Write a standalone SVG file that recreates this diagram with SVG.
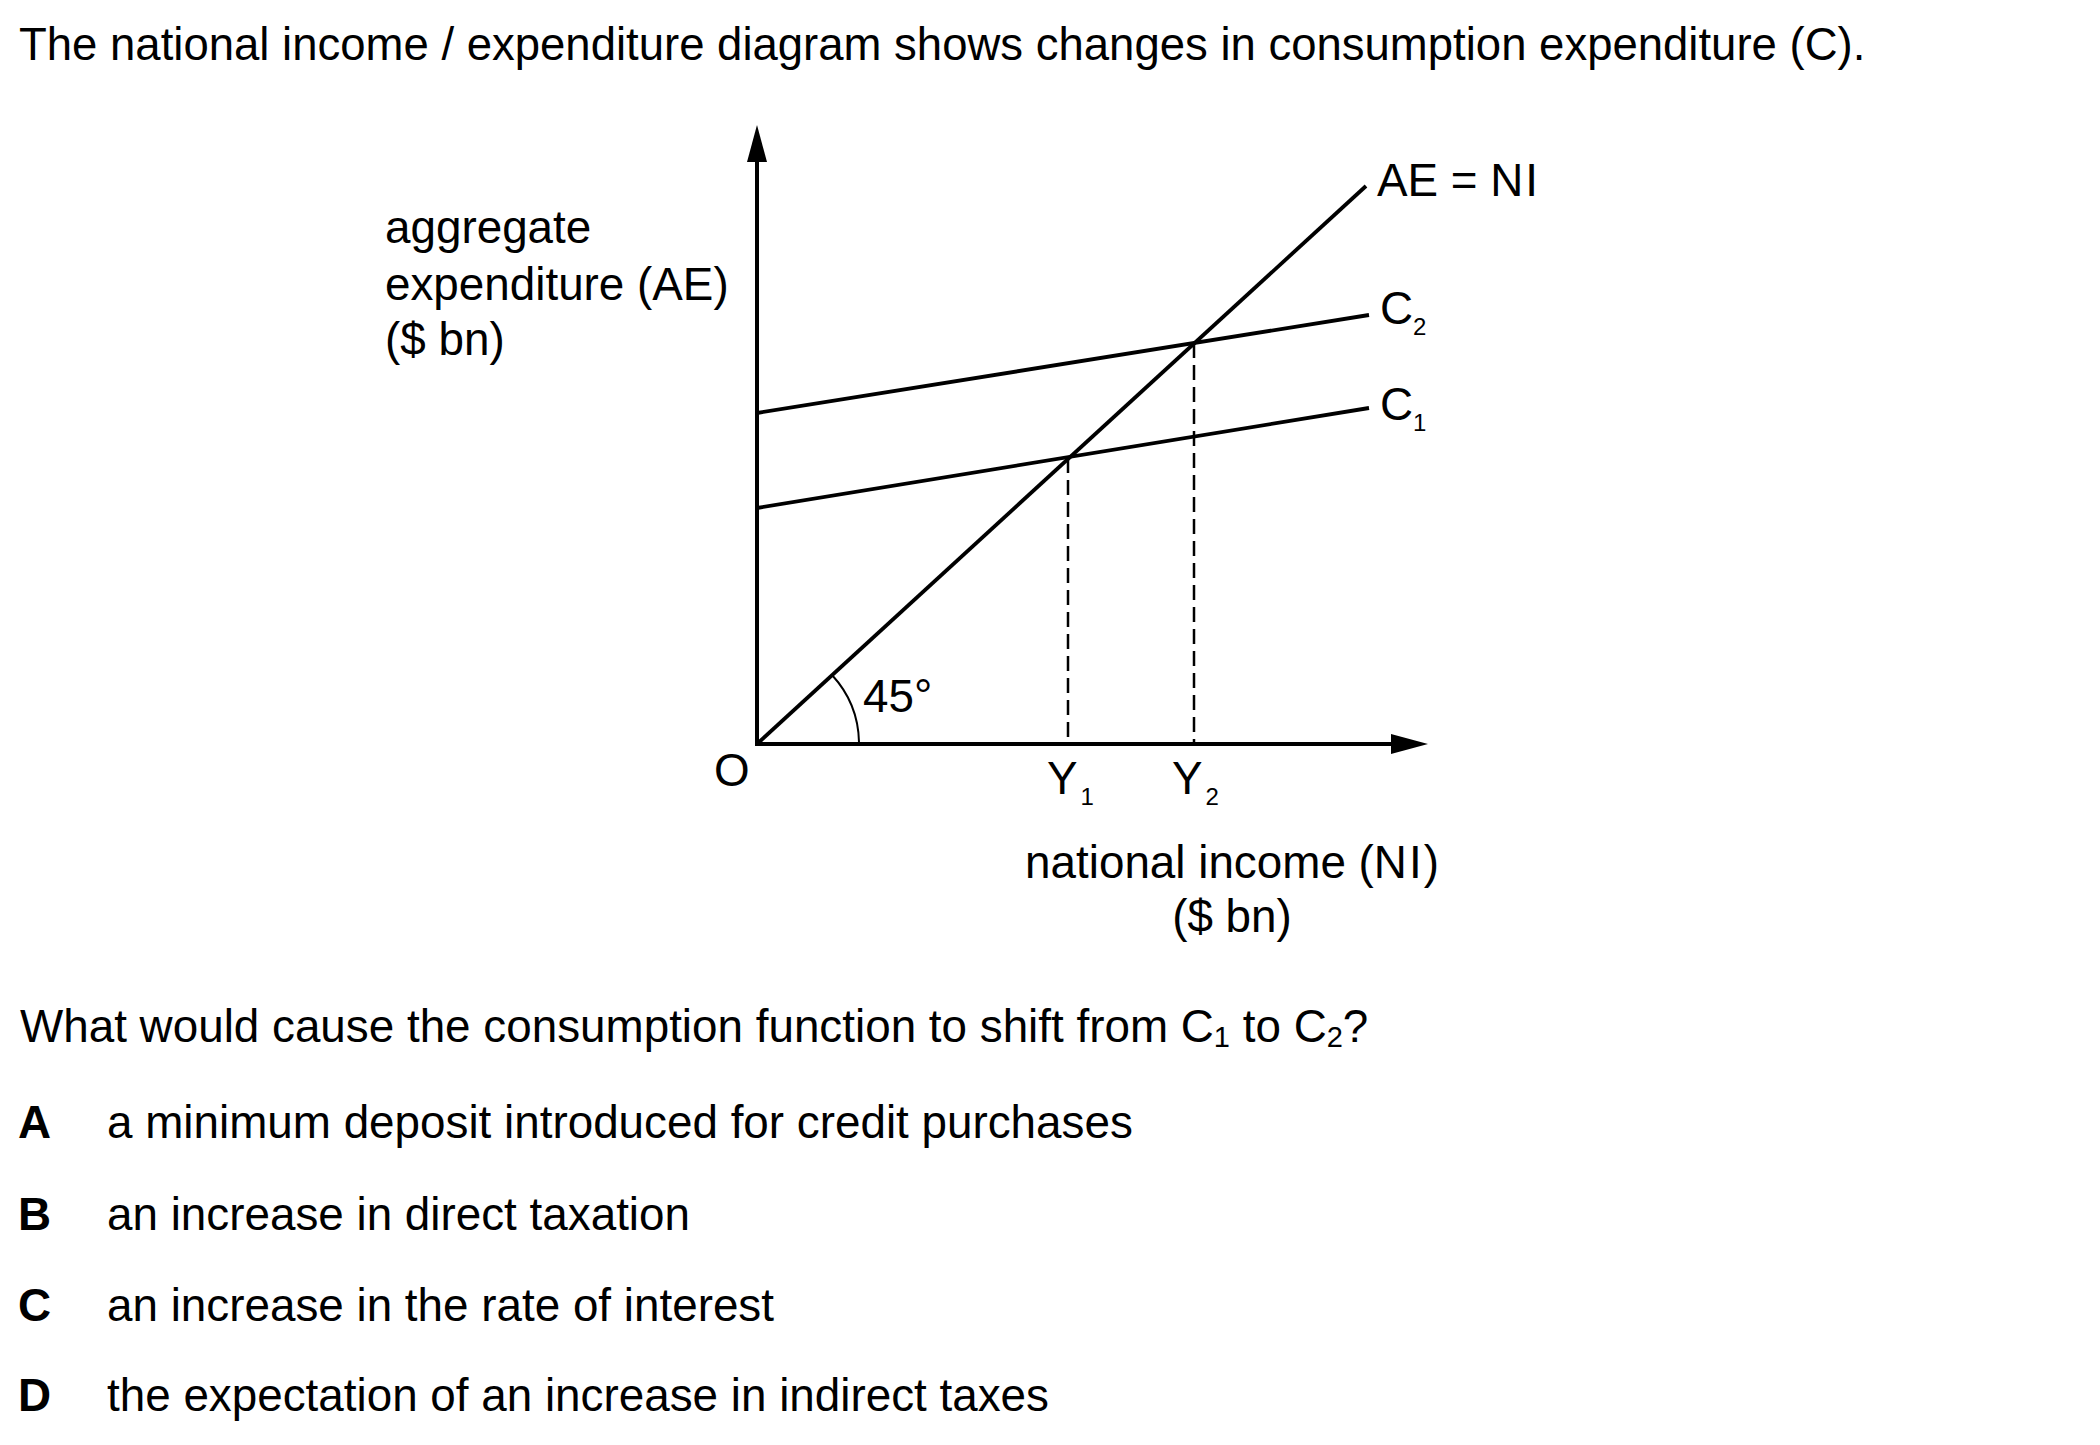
<svg xmlns="http://www.w3.org/2000/svg" width="2100" height="1445" viewBox="0 0 2100 1445">
<style>
  text { font-family: "Liberation Sans", Arial, sans-serif; fill: #000; }
  .t { font-size: 45.5px; }
  .o { font-size: 45.8px; }
  .d { font-size: 45.8px; }
  .sub { font-size: 24px; }
  .qsub { font-size: 29px; }
  .b { font-weight: bold; }
  .axis { stroke: #000; stroke-width: 4; fill: none; }
  .curve { stroke: #000; stroke-width: 3.8; fill: none; stroke-linecap: butt; }
  .dash { stroke: #000; stroke-width: 2.5; fill: none; stroke-dasharray: 15 7; }
  .arc { stroke: #000; stroke-width: 2; fill: none; }
</style>
<defs>
  <marker id="arrow" viewBox="0 0 37 20" refX="0" refY="10" markerWidth="37" markerHeight="20" markerUnits="userSpaceOnUse" orient="auto">
    <path d="M0,0 L37,10 L0,20 Z" fill="#000"/>
  </marker>
</defs>
<rect width="2100" height="1445" fill="#fff"/>

<g id="title">
  <text class="t" x="19" y="60">The national income / expenditure diagram shows changes in consumption expenditure (C).</text>
</g>

<g id="y-axis-label">
  <text class="d" x="385" y="243">aggregate</text>
  <text class="d" x="385" y="300">expenditure (AE)</text>
  <text class="d" x="385" y="355">($ bn)</text>
</g>

<g id="x-axis-label">
  <text class="d" x="1232" y="878" text-anchor="middle">national income (N<tspan dx="2">I</tspan><tspan dx="2">)</tspan></text>
  <text class="d" x="1232" y="932" text-anchor="middle">($ bn)</text>
</g>

<g id="connectors">
  <line id="y-axis" class="axis" x1="757" y1="746" x2="757" y2="162" marker-end="url(#arrow)"/>
  <line id="x-axis" class="axis" x1="755" y1="744" x2="1391" y2="744" marker-end="url(#arrow)"/>
  <line id="ae-ni" class="curve" x1="757" y1="744" x2="1366" y2="186"/>
  <line id="c2" class="curve" x1="757" y1="413" x2="1369" y2="315"/>
  <line id="c1" class="curve" x1="757" y1="508" x2="1369" y2="408"/>
  <line id="y1-drop" class="dash" x1="1068" y1="458" x2="1068" y2="742"/>
  <line id="y2-drop" class="dash" x1="1194" y1="343" x2="1194" y2="742"/>
  <path id="angle-arc" class="arc" d="M 859 742 A 102 102 0 0 0 832 675"/>
</g>

<g id="diagram-labels">
  <text class="d" x="1377" y="196">AE = N<tspan dx="2">I</tspan></text>
  <text class="d" x="1380" y="324">C<tspan class="sub" dy="11">2</tspan></text>
  <text class="d" x="1380" y="420">C<tspan class="sub" dy="11">1</tspan></text>
  <text class="d" x="863" y="712">45°</text>
  <text class="d" x="714" y="786">O</text>
  <text class="d" x="1047" y="794">Y<tspan class="sub" dx="3" dy="11">1</tspan></text>
  <text class="d" x="1172" y="794">Y<tspan class="sub" dx="3" dy="11">2</tspan></text>
</g>

<g id="question">
  <text class="o" x="20" y="1042">What would cause the consumption function to shift from C<tspan class="qsub" dy="5">1</tspan><tspan dy="-5"> to C</tspan><tspan class="qsub" dy="5">2</tspan><tspan dy="-5">?</tspan></text>
</g>

<g id="options">
  <text class="o b" x="18" y="1138">A</text>
  <text class="o" x="107" y="1138">a minimum deposit introduced for credit purchases</text>
  <text class="o b" x="18" y="1230">B</text>
  <text class="o" x="107" y="1230">an increase in direct taxation</text>
  <text class="o b" x="18" y="1321">C</text>
  <text class="o" x="107" y="1321">an increase in the rate of interest</text>
  <text class="o b" x="18" y="1411">D</text>
  <text class="o" x="107" y="1411">the expectation of an increase in indirect taxes</text>
</g>
</svg>
